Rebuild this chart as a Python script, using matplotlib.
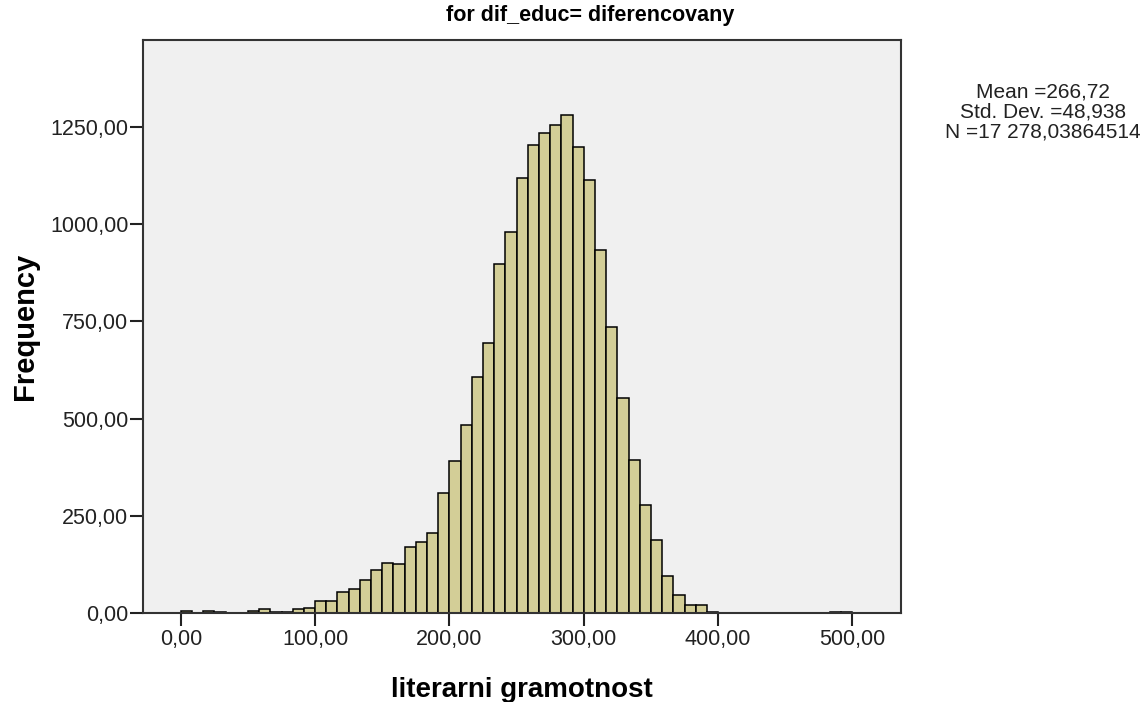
import numpy as np
import matplotlib
matplotlib.use("Agg")
import matplotlib.pyplot as plt

plt.rcParams["font.family"] = ["Liberation Sans", "DejaVu Sans"]

# histogram counts, bins of 500/60 starting at 0
bin_start = 0.0
bin_width = 500.0 / 60
counts = [4, 1, 5, 2, 1, 1, 5, 10, 3, 3, 10,
          14, 30, 32, 55, 62, 86, 111, 129, 126, 171,
          182, 206, 309, 391, 483, 606, 694,
          899, 979, 1120, 1203, 1235, 1255, 1281,
          1198, 1115, 933, 736, 554, 393, 279, 187, 94, 46, 21, 21, 3,
          1, 1, 0, 0, 0, 0, 0, 0, 0, 0, 2, 2]
x_ticks = [0, 100, 200, 300, 400, 500]
y_ticks = [0, 250, 500, 750, 1000, 1250]
stats_lines = ["Mean =266,72", "Std. Dev. =48,938", "N =17 278,03864514"]

edges = bin_start + bin_width * np.arange(len(counts))

W, H = 1147, 702
fig = plt.figure(figsize=(W / 100, H / 100), dpi=100)
ax = fig.add_axes([143 / W, 89 / H, 758 / W, 573 / H])
ax.set_facecolor("#f0f0f0")

ax.bar(edges, counts, width=bin_width, align="edge",
       color="#d3ce97", edgecolor="black", linewidth=1.1)

ax.set_xlim(-28.1, 536.1)
ax.set_ylim(0, 1474)

def comma(v):
    return f"{v:.2f}".replace(".", ",")

ax.set_xticks(x_ticks)
ax.set_xticklabels([comma(v) for v in x_ticks])
ax.set_yticks(y_ticks)
ax.set_yticklabels([comma(v) for v in y_ticks])
ax.tick_params(direction="out", length=9.5, width=1.5, color="#222222",
               labelsize=15.5, labelcolor="#222222")
ax.tick_params(axis="x", pad=2)
ax.tick_params(axis="y", pad=1)

for s in ax.spines.values():
    s.set_color("#333333")
    s.set_linewidth(1.5)

# axis titles placed in pixel positions
fig.text(522 / W, 1 - 697 / H, "literarni gramotnost", ha="center", va="baseline",
         fontsize=20, fontweight="bold")
fig.text(25 / W, 1 - 326 / H, "Frequency", ha="center", va="center",
         rotation=90, fontsize=21, fontweight="bold")

fig.text(590 / W, 1 - 15 / H, "for dif_educ= diferencovany", ha="center", va="center",
         fontsize=15.5, fontweight="bold")

baselines = [98, 117, 137]
for line, yb in zip(stats_lines, baselines):
    fig.text(1043 / W, 1 - yb / H, line, ha="center", va="baseline",
             fontsize=15, color="#222222")

fig.savefig("out.png", dpi=100)
